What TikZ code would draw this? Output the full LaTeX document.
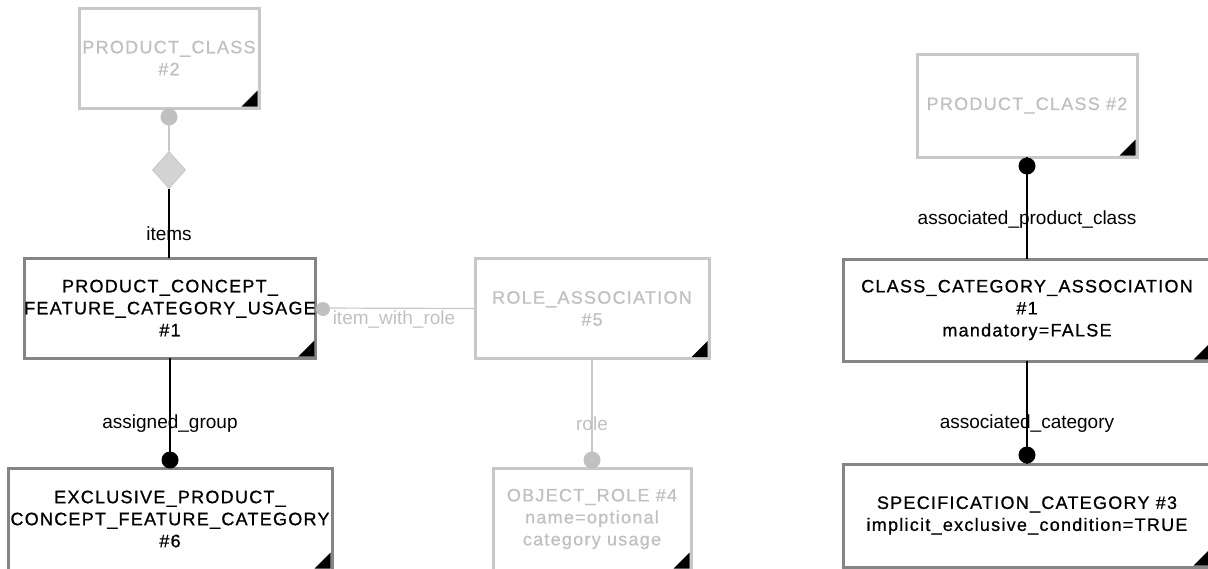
\documentclass[tikz,border=0pt]{standalone}
\usepackage{fontspec}
\usepackage{xcolor}
\usepackage{tikz}
\usetikzlibrary{calc,shapes.geometric}
\newfontfamily\entfamily{Liberation Sans}[LetterSpace=7,FakeBold=0.8]
\newfontfamily\relfamily{Liberation Sans}
\newcommand\entfont{\entfamily\fontsize{18}{22}\selectfont}
\newcommand\relfont{\relfamily\fontsize{19}{22}\selectfont}
\definecolor{edgegray}{HTML}{858585}
\definecolor{pale}{HTML}{C8C8C8}
\definecolor{paletext}{HTML}{C0C0C0}
\definecolor{diafill}{HTML}{D3D3D3}
\tikzset{ent/.style={draw=edgegray,line width=3pt,minimum height=100pt,inner sep=0pt,outer sep=0pt,align=center,font=\entfont},
entx/.style={ent,draw=pale,text=paletext},
relb/.style={line width=1.2pt},
relg/.style={line width=1.2pt,draw=pale},
dotb/.style={circle,fill=black,inner sep=0pt,minimum size=17pt},
dotg/.style={dotb,fill=paletext},
rl/.style={font=\relfont},
rlg/.style={rl,text=paletext}}

\begin{document}
\begin{tikzpicture}[x=1pt,y=-1pt]
\useasboundingbox (0,0) rectangle (1208,568);
\node[entx,minimum width=180] (pc2l) at (169,58) {PRODUCT\_CLASS\\\#2};
\node[ent,minimum width=288] (pcfcu) at (170,308) {PRODUCT\_CONCEPT\_\\FEATURE\_CATEGORY\_USAGE\\\#1};
\node[entx,minimum width=234] (ra) at (592,308.5) {ROLE\_ASSOCIATION\\\#5};
\node[ent,minimum width=324,minimum height=102] (epcfc) at (170,519) {EXCLUSIVE\_PRODUCT\_\\CONCEPT\_FEATURE\_CATEGORY\\\#6};
\node[entx,minimum width=198,minimum height=102] (or4) at (592,519) {OBJECT\_ROLE \#4\\name=optional\\category usage};
\node[entx,minimum width=220,minimum height=103] (pc2r) at (1027,105.5) {PRODUCT\_CLASS \#2};
\node[ent,minimum width=368,minimum height=102] (cca) at (1027,310) {CLASS\_CATEGORY\_ASSOCIATION\\\#1\\mandatory=FALSE};
\node[ent,minimum width=368,minimum height=103] (sc3) at (1027,515.5) {SPECIFICATION\_CATEGORY \#3\\implicit\_exclusive\_condition=TRUE};
\foreach \n in {pc2l,pcfcu,ra,epcfc,or4,pc2r,cca,sc3}{\fill ($(\n.south east)+(-1.5,-1.5)$) -- ++(-16,0) -- ++(16,-16) -- cycle;}

\node[diamond,fill=diafill,draw=pale,line width=1pt,minimum width=33pt,minimum height=37pt,inner sep=0pt] (dia) at (169,170) {};
\draw[relg] (pc2l.south) -- (dia.north);
\draw[relb] (dia.south) -- (pcfcu.north -| dia.south);
\node[dotg] (d1) at (169,117) {};
\node[rl] (items) at (169,234) {items};

\draw[relg] (pcfcu.east) -- (ra.west);
\node[dotg,minimum size=14pt] (d2) at (323,309) {};
\node[rlg] (iwr) at (394,319) {item\_with\_role};

\draw[relb] (pcfcu.south) -- (epcfc.north);
\node[dotb] (d3) at (170,460) {};
\node[rl] (ag) at (170,424) {assigned\_group};

\draw[relg] (ra.south) -- (or4.north);
\node[dotg] (d4) at (592,460) {};
\node[rlg] (role) at (592,424) {role};

\draw[relb] (pc2r.south) -- (cca.north);
\node[dotb] (d5) at (1027,166) {};
\node[rl] (apc) at (1027,220) {associated\_product\_class};

\draw[relb] (cca.south) -- (sc3.north);
\node[dotb] (d6) at (1027,455) {};
\node[rl] (ac) at (1027,424) {associated\_category};
\end{tikzpicture}
\end{document}
